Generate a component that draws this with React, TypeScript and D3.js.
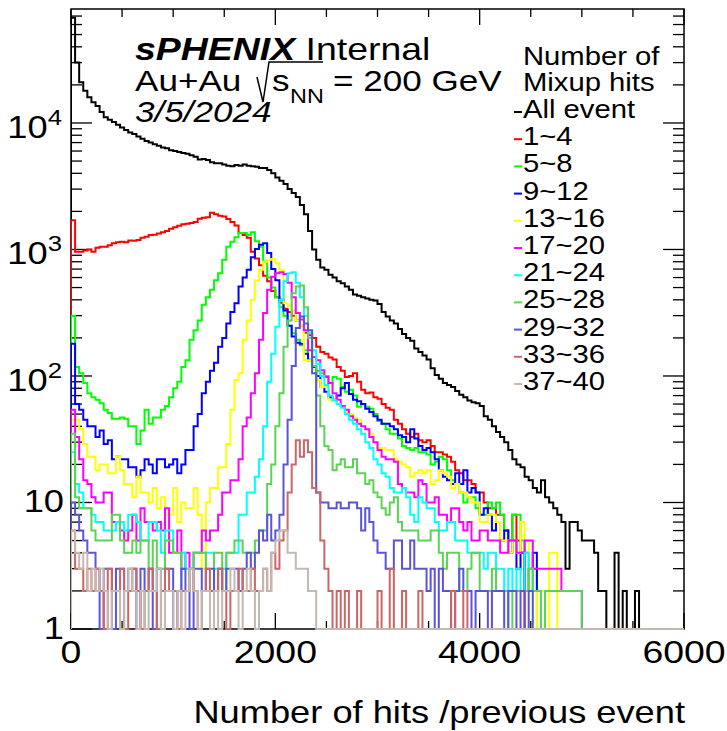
import React from "react";
import * as d3 from "d3";

// ---------------- data ----------------
const BIN_WIDTH = 40; // hits per bin
const X_DOMAIN: [number, number] = [0, 6000];
const Y_DOMAIN: [number, number] = [1, 79600];

const xMajorTicks = [0, 2000, 4000, 6000];
const xTickLabels = ["0", "2000", "4000", "6000"];
const yMajorTicks = [1, 10, 100, 1000, 10000];
const yTickBase = ["1", "10", "10", "10", "10"];
const yTickExp = ["", "", "2", "3", "4"];

const seriesLabels = [
  "All event", "1~4", "5~8", "9~12", "13~16", "17~20",
  "21~24", "25~28", "29~32", "33~36", "37~40",
];

const allEvent = [
  68000, 30000, 21000, 18000, 16000, 14600, 13600, 12200, 11100, 10600,
  10200, 9700, 9200, 8800, 8400, 8200, 7800, 7500, 7200, 7000,
  6800, 6600, 6400, 6300, 6100, 6000, 5900, 5800, 5700, 5550,
  5400, 5150, 5200, 5100, 4900, 4800, 4800, 4700, 4600, 4550,
  4650, 4600, 4700, 4600, 4550, 4500, 4400, 4400, 4250, 4000,
  3700, 3500, 3300, 3000, 2800, 2600, 2250, 1900, 1400, 1000,
  830, 720, 690, 630, 600, 560, 540, 510, 480, 440,
  430, 420, 410, 400, 395, 370, 320, 295, 275, 260,
  235, 215, 200, 190, 165, 155, 145, 135, 115, 102,
  95, 88, 85, 82, 76, 71, 68, 64, 62, 61,
  58, 48, 45, 40, 36, 33, 30, 26, 22, 20,
  19, 16, 15, 13, 12, 15, 11, 10, 9, 8,
  7, 3, 7, 7, 6, 5, 5, 5, 4, 2,
  2, 0, 0, 4, 0, 2, 0, 0, 2, 0,
];

const hits1to4 = [
  1700, 960, 960, 980, 1000, 960, 1030, 1050, 1050, 1080,
  1120, 1140, 1150, 1140, 1180, 1170, 1190, 1240, 1260, 1300,
  1310, 1340, 1370, 1400, 1460, 1500, 1540, 1580, 1600, 1620,
  1650, 1750, 1780, 1800, 1950, 1900, 1850, 1820, 1740, 1650,
  1550, 1350, 1300, 1240, 960, 850, 750, 620, 560, 470,
  420, 380, 340, 320, 300, 275, 250, 220, 210, 200,
  170, 155, 150, 140, 135, 118, 110, 98, 100, 105,
  90, 78, 73, 74, 68, 66, 60, 56, 54, 45,
  42, 38, 35, 33, 35, 31, 30, 31, 28, 25,
  25, 24, 23, 21, 18, 17, 15, 15, 14, 12,
  12, 10, 9, 9, 8, 8, 6, 5, 8, 5,
  4,
];

const hits5to8 = [
  300, 118, 105, 88, 73, 68, 65, 61, 54, 51,
  46, 46, 47, 46, 40, 40, 29, 37, 54, 42,
  47, 47, 54, 58, 68, 80, 90, 118, 133, 193,
  230, 275, 365, 420, 480, 570, 650, 830, 1050, 1150,
  1250, 1350, 1350, 1300, 1370, 1160, 1050, 800, 600, 500,
  420, 350, 300, 250, 218, 193, 175, 160, 135, 120,
  110, 105, 100, 88, 98, 95, 82, 75, 78, 70,
  57, 60, 57, 55, 50, 44, 42, 38, 35, 35,
  32, 28, 27, 26, 27, 25, 25, 24, 20, 21,
  23, 22, 18, 15, 14, 12, 10, 11, 11, 9,
  8, 8, 10, 9, 10, 8, 6, 5, 8, 8,
  5, 4, 2, 3,
];

const hits9to12 = [
  180, 60, 54, 45, 40, 40, 33, 37, 29, 31,
  22, 23, 22, 22, 19, 19, 16, 18, 22, 20,
  17, 22, 22, 19, 20, 22, 17, 20, 26, 26,
  40, 50, 73, 90, 110, 127, 170, 200, 260, 320,
  375, 510, 600, 690, 870, 1010, 1090, 1120, 940, 700,
  570, 400, 330, 250, 205, 183, 180, 150, 133, 118,
  100, 82, 75, 68, 65, 70, 80, 88, 72, 65,
  63, 60, 55, 52, 48, 45, 42, 42, 40, 38,
  34, 33, 30, 38, 32, 28, 26, 27, 25, 22,
  18, 16, 15, 14, 17, 14, 18, 12, 13, 12,
  8, 9, 8, 6, 7, 5, 6, 4, 5, 3,
  4, 2, 3, 4, 2, 1,
];

const hits13to16 = [
  45, 45, 38, 29, 23, 23, 18, 20, 20, 17,
  17, 23, 18, 14, 14, 11, 16, 12, 12, 10,
  13, 9, 11, 8, 8, 13, 7, 10, 9, 9,
  13, 8, 3, 10, 13, 13, 19, 19, 29, 54,
  93, 105, 193, 275, 400, 570, 690, 800, 830, 840,
  780, 690, 375, 360, 330, 275, 250, 133, 133, 105,
  93, 82, 82, 65, 65, 60, 57, 52, 50, 47,
  45, 40, 38, 35, 30, 27, 27, 26, 26, 22,
  21, 20, 19, 16, 17, 18, 17, 18, 14, 15,
  18, 17, 16, 13, 14, 12, 12, 11, 10, 10,
  7, 7, 8, 8, 7, 5, 5, 4, 5, 4,
  7, 5, 2, 2, 0, 2, 0, 4, 4,
];

const hits17to20 = [
  54, 33, 22, 15, 14, 11, 10, 10, 12, 12,
  7, 7, 6, 5, 6, 8, 5, 9, 7, 7,
  6, 7, 6, 9, 4, 4, 6, 3, 4, 3,
  4, 4, 6, 5, 6, 6, 8, 12, 12, 15,
  15, 22, 40, 47, 73, 105, 193, 315, 480, 610,
  650, 660, 640, 545, 420, 315, 280, 230, 160, 141,
  133, 111, 98, 88, 73, 65, 58, 54, 48, 45,
  42, 40, 38, 33, 30, 26, 23, 22, 22, 21,
  14, 13, 12, 12, 11, 15, 14, 10, 10, 11,
  8, 8, 7, 9, 9, 7, 6, 7, 5, 5,
  6, 6, 5, 5, 5, 4, 4, 5, 5, 4,
  4, 5, 5, 3, 3, 3, 3, 3, 3, 3,
  2, 2, 2, 2, 2,
];

const hits21to24 = [
  25, 14, 12, 9, 9, 8, 7, 7, 6, 6,
  6, 7, 7, 6, 8, 8, 7, 5, 5, 7,
  7, 6, 4, 6, 6, 4, 4, 4, 3, 3,
  4, 4, 4, 4, 4, 3, 3, 3, 4, 4,
  4, 8, 8, 12, 12, 16, 22, 40, 90, 150,
  245, 400, 560, 650, 660, 545, 420, 300, 220, 160,
  125, 100, 85, 70, 64, 60, 56, 50, 45, 42,
  38, 35, 30, 27, 22, 20, 17, 16, 13, 12,
  12, 13, 11, 8, 7, 11, 10, 9, 9, 7,
  6, 6, 7, 7, 5, 5, 5, 4, 4, 4,
  4, 3, 4, 4, 3, 3, 2, 3, 2, 3,
  2, 4, 3, 2, 2,
];

const hits25to28 = [
  35, 11, 9, 9, 9, 6, 5, 5, 5, 5,
  8, 8, 5, 4, 4, 5, 4, 5, 5, 3,
  5, 3, 3, 5, 5, 4, 4, 2, 2, 3,
  4, 4, 4, 2, 2, 4, 4, 2, 4, 4,
  5, 5, 4, 4, 4, 5, 6, 6, 14, 20,
  40, 73, 170, 275, 450, 510, 520, 350, 200, 120,
  70, 40, 28, 26, 18, 20, 22, 19, 19, 22,
  17, 17, 14, 15, 12, 11, 9, 8, 10, 11,
  7, 6, 6, 6, 6, 5, 5, 5, 6, 6,
  4, 3, 4, 4, 4, 2, 2, 3, 4, 4,
  2, 2, 2, 3, 2, 2, 2, 0, 2, 2,
  2, 2, 3, 2, 2, 0, 2, 2, 2, 2,
  2, 2, 2, 2, 2,
];

const hits29to32 = [
  10, 8, 6, 5, 4, 4, 3, 0, 3, 3,
  0, 3, 3, 2, 3, 3, 0, 3, 2, 3,
  0, 3, 2, 3, 3, 0, 2, 3, 2, 0,
  3, 3, 2, 3, 3, 2, 3, 2, 3, 3,
  3, 2, 3, 4, 3, 4, 6, 5, 8, 5,
  6, 8, 20, 45, 120, 240, 295, 260, 230, 105,
  12, 10, 10, 9, 9, 10, 9, 9, 10, 10,
  9, 6, 9, 7, 5, 4, 4, 3, 3, 5,
  5, 3, 3, 5, 3, 3, 3, 2, 3, 0,
  3, 2, 2, 0, 2, 3, 2, 2, 0, 2,
  2, 2, 0, 2, 2, 2, 0, 2, 2, 0,
  2, 0, 2,
];

const hits33to36 = [
  6, 3, 3, 2, 3, 2, 3, 2, 0, 3,
  2, 2, 3, 0, 2, 3, 2, 0, 2, 3,
  2, 0, 2, 3, 2, 2, 0, 2, 2, 3,
  2, 0, 2, 3, 2, 2, 3, 2, 0, 2,
  2, 3, 2, 2, 3, 2, 2, 3, 2, 4,
  3, 5, 6, 12, 20, 31, 23, 31, 25, 13,
  12, 5, 3, 2, 0, 2, 0, 2, 0, 0,
  2, 0, 0, 0, 0, 2, 0, 0, 3, 0,
  0, 2, 0, 0, 0, 2, 0, 0, 0, 0,
  0, 0, 0, 2, 0, 0, 2,
];

const hits37to40 = [
  6, 4, 3, 4, 2, 3, 2, 3, 2, 0,
  2, 2, 0, 2, 3, 2, 0, 2, 0, 2,
  2, 3, 0, 2, 2, 0, 2, 0, 2, 3,
  2, 0, 2, 2, 0, 2, 0, 2, 2, 3,
  2, 0, 2, 3, 2, 0, 2, 3, 2, 4,
  5, 6, 6, 4, 4, 3, 3, 3, 2, 2,
];

const seriesValues = [
  allEvent, hits1to4, hits5to8, hits9to12, hits13to16, hits17to20,
  hits21to24, hits25to28, hits29to32, hits33to36, hits37to40,
];

// ---------------- styles ----------------
const seriesColors = [
  "#000000", "#ff0000", "#00ff00", "#0000ff", "#ffff00", "#ff00ff",
  "#00ffff", "#59d454", "#5954d9", "#cc6666", "#c4b8b0",
];

const W = 727;
const H = 731;
const FRAME = { left: 71, right: 684, top: 9, bottom: 629 };
const SX = 1.17;
const FONT = "'Liberation Sans', Arial, Helvetica, sans-serif";

type TProps = {
  x: number;
  y: number;
  size: number;
  anchor?: "start" | "middle" | "end";
  weight?: string;
  italic?: boolean;
  children?: React.ReactNode;
};

function T({ x, y, size, anchor = "start", weight, italic, children }: TProps) {
  return (
    <text
      transform={`translate(${x},${y}) scale(${SX},1)`}
      fontSize={size}
      textAnchor={anchor}
      fontWeight={weight}
      fontStyle={italic ? "italic" : undefined}
      fontFamily={FONT}
      fill="#000"
    >
      {children}
    </text>
  );
}

export default function App() {
  const x = d3.scaleLinear().domain(X_DOMAIN).range([FRAME.left, FRAME.right]);
  const y = d3.scaleLog().domain(Y_DOMAIN).range([FRAME.bottom, FRAME.top]);
  const nBins = Math.round((X_DOMAIN[1] - X_DOMAIN[0]) / BIN_WIDTH);

  const line = d3.line<[number, number]>();
  const stepPath = (vals: number[]) => {
    const pts: [number, number][] = [[x(X_DOMAIN[0]), y(Y_DOMAIN[0])]];
    for (let i = 0; i < nBins; i++) {
      const v = Math.max(vals[i] ?? 0, Y_DOMAIN[0]);
      const yy = y(v);
      pts.push([x(X_DOMAIN[0] + i * BIN_WIDTH), yy]);
      pts.push([x(X_DOMAIN[0] + (i + 1) * BIN_WIDTH), yy]);
    }
    pts.push([x(X_DOMAIN[1]), y(Y_DOMAIN[0])]);
    return line(pts) || "";
  };

  const xMinor: number[] = d3
    .range(X_DOMAIN[0], X_DOMAIN[1] + 1, 500)
    .filter((v) => v % 2000 !== 0);
  const yMinor: number[] = [];
  for (let e = 0; e <= 4; e++) {
    for (let k = 2; k <= 9; k++) {
      const v = k * Math.pow(10, e);
      if (v <= Y_DOMAIN[1]) yMinor.push(v);
    }
  }

  const legendX = 523;
  const legendY0 = 118;
  const legendDy = 27.2;

  return (
    <svg
      width={W}
      height={H}
      style={{ position: "absolute", left: 0, top: 0, background: "#fff" }}
    >
      <defs>
        <clipPath id="frameClip">
          <rect
            x={FRAME.left}
            y={FRAME.top}
            width={FRAME.right - FRAME.left}
            height={FRAME.bottom - FRAME.top + 1}
          />
        </clipPath>
      </defs>
      <rect width={W} height={H} fill="#fff" />

      {/* frame */}
      <rect
        x={FRAME.left}
        y={FRAME.top}
        width={FRAME.right - FRAME.left}
        height={FRAME.bottom - FRAME.top}
        fill="none"
        stroke="#000"
        strokeWidth={1.5}
      />

      {/* x ticks (top & bottom) */}
      {xMajorTicks.map((v) => (
        <g key={"xM" + v}>
          <line x1={x(v)} x2={x(v)} y1={FRAME.top} y2={FRAME.top + 16} stroke="#000" strokeWidth={1.3} />
          <line x1={x(v)} x2={x(v)} y1={FRAME.bottom} y2={FRAME.bottom - 16} stroke="#000" strokeWidth={1.3} />
        </g>
      ))}
      {xMinor.map((v) => (
        <g key={"xm" + v}>
          <line x1={x(v)} x2={x(v)} y1={FRAME.top} y2={FRAME.top + 8} stroke="#000" strokeWidth={1.3} />
          <line x1={x(v)} x2={x(v)} y1={FRAME.bottom} y2={FRAME.bottom - 8} stroke="#000" strokeWidth={1.3} />
        </g>
      ))}

      {/* y ticks (left & right) */}
      {yMajorTicks.map((v) => (
        <g key={"yM" + v}>
          <line x1={FRAME.left} x2={FRAME.left + 21} y1={y(v)} y2={y(v)} stroke="#000" strokeWidth={1.3} />
          <line x1={FRAME.right} x2={FRAME.right - 21} y1={y(v)} y2={y(v)} stroke="#000" strokeWidth={1.3} />
        </g>
      ))}
      {yMinor.map((v) => (
        <g key={"ym" + v}>
          <line x1={FRAME.left} x2={FRAME.left + 11} y1={y(v)} y2={y(v)} stroke="#000" strokeWidth={1.3} />
          <line x1={FRAME.right} x2={FRAME.right - 11} y1={y(v)} y2={y(v)} stroke="#000" strokeWidth={1.3} />
        </g>
      ))}

      {/* histograms */}
      <g clipPath="url(#frameClip)" fill="none" strokeWidth={2} strokeLinejoin="miter">
        {seriesValues.map((vals, i) => (
          <path key={seriesLabels[i]} d={stepPath(vals)} stroke={seriesColors[i]} />
        ))}
      </g>

      {/* y tick labels */}
      {yMajorTicks.map((v, i) =>
        yTickExp[i] ? (
          <T key={"yl" + v} x={62} y={y(v) + 15} size={31} anchor="end">
            {yTickBase[i]}
            <tspan fontSize={22} dy={-13}>
              {yTickExp[i]}
            </tspan>
          </T>
        ) : (
          <T key={"yl" + v} x={64} y={y(v) + 10} size={31} anchor="end">
            {yTickBase[i]}
          </T>
        )
      )}

      {/* x tick labels */}
      {xMajorTicks.map((v, i) => (
        <T key={"xl" + v} x={x(v)} y={663} size={32} anchor="middle">
          {xTickLabels[i]}
        </T>
      ))}

      {/* x axis title */}
      <T x={685} y={723} size={31} anchor="end">
        Number of hits /previous event
      </T>

      {/* header */}
      <T x={135} y={60} size={32}>
        <tspan fontWeight="bold" fontStyle="italic">sPHENIX</tspan>
        <tspan> Internal</tspan>
      </T>
      <T x={135} y={91} size={30}>Au+Au</T>
      <path
        d="M257,77 L263,102 L269,62 L323,62"
        fill="none"
        stroke="#000"
        strokeWidth={1.5}
      />
      <T x={272} y={91} size={30}>s</T>
      <T x={290} y={103} size={20}>NN</T>
      <T x={333} y={91} size={30}>= 200 GeV</T>
      <T x={135} y={122} size={30} italic>
        3/5/2024
      </T>

      {/* legend */}
      <T x={legendX} y={65} size={25}>Number of</T>
      <T x={legendX} y={91} size={25}>Mixup hits</T>
      {seriesLabels.map((lab, i) => {
        const by = legendY0 + i * legendDy;
        return (
          <g key={"lg" + lab}>
            <line
              x1={legendX - 9}
              x2={legendX - 1}
              y1={by - 6}
              y2={by - 6}
              stroke={seriesColors[i]}
              strokeWidth={2}
            />
            <T x={legendX} y={by} size={25}>
              {lab}
            </T>
          </g>
        );
      })}
    </svg>
  );
}
